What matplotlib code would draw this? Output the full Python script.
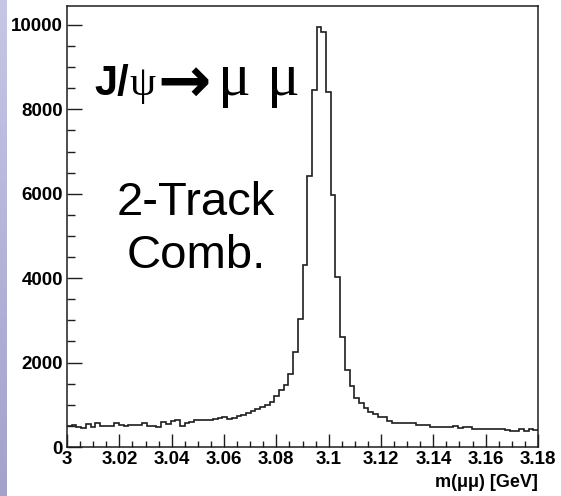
import numpy as np
import matplotlib
matplotlib.use("Agg")
from matplotlib import pyplot as plt
from matplotlib.ticker import MultipleLocator

# dimuon invariant mass, 100 bins from 3.00 to 3.18 GeV
mass_lo = 3.00
mass_hi = 3.18
counts = [505, 510, 480, 460, 537, 470, 561, 505, 505, 505,
          560, 520, 495, 524, 524, 524, 561, 505, 505, 466,
          600, 540, 623, 640, 505, 576, 600, 640, 640, 640,
          640, 660, 680, 718, 660, 690, 745, 760, 800, 860,
          900, 950, 1000, 1075, 1210, 1350, 1470, 1730, 2258, 3026,
          4310, 6420, 8460, 9960, 9840, 8420, 5970, 4036, 2600, 1825,
          1445, 1150, 1035, 917, 836, 775, 704, 718, 610, 580,
          576, 576, 576, 576, 525, 525, 525, 485, 481, 481,
          481, 481, 505, 450, 470, 470, 430, 420, 430, 430,
          430, 430, 430, 410, 380, 380, 420, 370, 425, 405]

x_ticks = [3.00, 3.02, 3.04, 3.06, 3.08, 3.10, 3.12, 3.14, 3.16, 3.18]
x_tick_labels = ["3", "3.02", "3.04", "3.06", "3.08", "3.1", "3.12", "3.14", "3.16", "3.18"]
y_ticks = [0, 2000, 4000, 6000, 8000, 10000]
y_tick_labels = ["0", "2000", "4000", "6000", "8000", "10000"]

W, H = 561, 496


def px(x, y):
    # pixel position (from top-left) -> figure fraction
    return x / W, 1 - y / H


plt.rcParams['font.family'] = ['Liberation Sans', 'DejaVu Sans']
plt.rcParams['font.weight'] = 'bold'

fig = plt.figure(figsize=(W / 100, H / 100), dpi=100)

# slide background strip on the left
strip = fig.add_axes([0, 0, 7 / W, 1])
grad = np.linspace(0, 1, 256).reshape(-1, 1)
strip.imshow(grad, aspect='auto', cmap=matplotlib.colors.LinearSegmentedColormap.from_list(
    'strip', ['#c6c6e6', '#a2a2cc']))
strip.axis('off')

ax = fig.add_axes([67 / W, 49 / H, 471 / W, 441 / H])
edges = np.linspace(mass_lo, mass_hi, len(counts) + 1)
ax.stairs(counts, edges, baseline=None, color='#1e1e1e', linewidth=1.2)

ax.set_xlim(mass_lo, mass_hi)
ax.set_ylim(0, 10450)
ax.set_xticks(x_ticks)
ax.set_xticklabels(x_tick_labels)
ax.set_yticks(y_ticks)
ax.set_yticklabels(y_tick_labels)
ax.xaxis.set_minor_locator(MultipleLocator(0.005))
ax.yaxis.set_minor_locator(MultipleLocator(500))

ax.tick_params(axis='both', which='both', direction='in', top=False, right=False,
               width=1.0, color='#1e1e1e', labelsize=13.5)
ax.tick_params(axis='x', which='major', length=9.5, pad=3)
ax.tick_params(axis='x', which='minor', length=4.5)
ax.tick_params(axis='y', which='major', length=11, pad=3)
ax.tick_params(axis='y', which='minor', length=6)
for sp in ax.spines.values():
    sp.set_linewidth(1.1)
    sp.set_color('#1e1e1e')

fig.text(*px(538, 487), "m(μμ) [GeV]", ha='right', va='baseline', fontsize=13)

# decay label
fig.text(*px(94, 95), "J/", ha='left', va='baseline', fontsize=30)
fig.text(*px(129, 95), "ψ", ha='left', va='baseline', fontsize=30,
         family='Liberation Serif', weight='normal')
fig.text(*px(157, 84), "→", ha='left', va='center', fontsize=46,
         family='DejaVu Sans', weight='bold')
fig.text(*px(234, 95), "μ", ha='center', va='baseline', fontsize=44,
         family='Liberation Serif', weight='normal')
fig.text(*px(283, 95), "μ", ha='center', va='baseline', fontsize=44,
         family='Liberation Serif', weight='normal')

fig.text(*px(196, 215), "2-Track", ha='center', va='baseline', fontsize=34, weight='normal')
fig.text(*px(196, 268), "Comb.", ha='center', va='baseline', fontsize=34, weight='normal')

fig.savefig('out.png', dpi=100)
plt.close()
